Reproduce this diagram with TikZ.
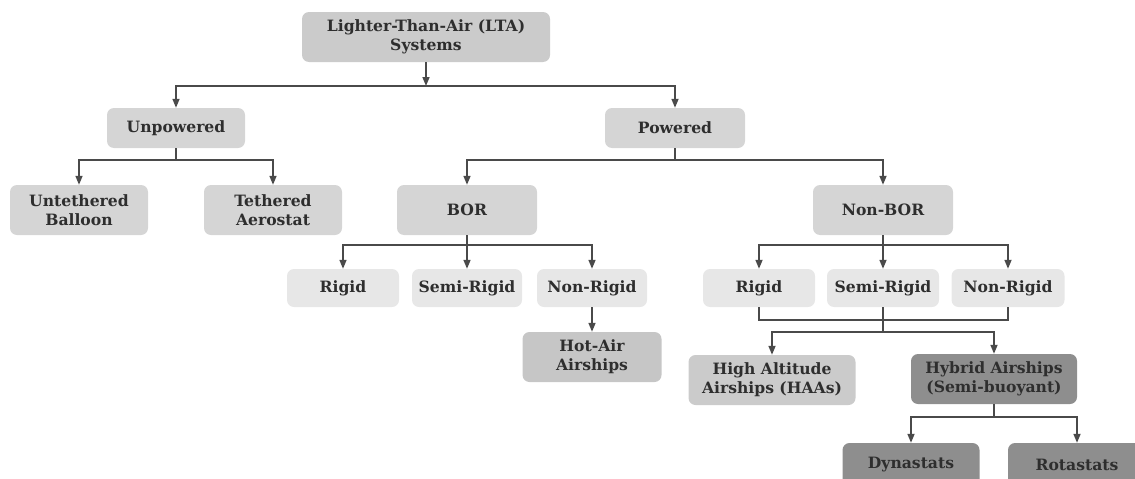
\documentclass[tikz,border=0pt]{standalone}
\usepackage{fontspec}
\setmainfont{DejaVu Serif}
\usetikzlibrary{arrows.meta}
\definecolor{cA}{HTML}{CBCBCB}
\definecolor{cB}{HTML}{D5D5D5}
\definecolor{cC}{HTML}{E7E7E7}
\definecolor{cD}{HTML}{C6C6C6}
\definecolor{cE}{HTML}{8E8E8E}
\definecolor{ln}{HTML}{4A4A4A}
\definecolor{tx}{HTML}{2E2E2E}
\tikzset{
  box/.style={rounded corners=7pt, inner sep=0pt, align=center, text=tx,
    font=\fontsize{15.6}{19}\selectfont\bfseries},
  conn/.style={draw=ln, line width=1.6pt},
  arr/.style={conn, -{Triangle[width=7pt,length=9pt]}},
}
\begin{document}
\begin{tikzpicture}[x=1pt,y=-1pt]
\useasboundingbox (0,0) rectangle (1135,479);
% nodes
\node[box, fill=cA, minimum width=248pt, minimum height=50pt] (lta) at (426,37) {Lighter-Than-Air (LTA)\\Systems};
\node[box, fill=cB, minimum width=138pt, minimum height=40pt] (unp) at (176,128) {Unpowered};
\node[box, fill=cB, minimum width=140pt, minimum height=40pt] (pow) at (675,128) {Powered};
\node[box, fill=cB, minimum width=138pt, minimum height=50pt] (unt) at (79,210) {Untethered\\Balloon};
\node[box, fill=cB, minimum width=138pt, minimum height=50pt] (teth) at (273,210) {Tethered\\Aerostat};
\node[box, fill=cB, minimum width=140pt, minimum height=50pt] (bor) at (467,210) {BOR};
\node[box, fill=cB, minimum width=140pt, minimum height=50pt] (nbor) at (883,210) {Non-BOR};
\node[box, fill=cC, minimum width=112pt, minimum height=38pt] (r1) at (343,288) {Rigid};
\node[box, fill=cC, minimum width=110pt, minimum height=38pt] (s1) at (467,288) {Semi-Rigid};
\node[box, fill=cC, minimum width=110pt, minimum height=38pt] (n1) at (592,288) {Non-Rigid};
\node[box, fill=cD, minimum width=139pt, minimum height=50pt] (hot) at (592,357) {Hot-Air\\Airships};
\node[box, fill=cC, minimum width=112pt, minimum height=38pt] (r2) at (759,288) {Rigid};
\node[box, fill=cC, minimum width=112pt, minimum height=38pt] (s2) at (883,288) {Semi-Rigid};
\node[box, fill=cC, minimum width=113pt, minimum height=38pt] (n2) at (1008,288) {Non-Rigid};
\node[box, fill=cA, minimum width=167pt, minimum height=50pt] (haa) at (772,380) {High Altitude\\Airships (HAAs)};
\node[box, fill=cE, minimum width=166pt, minimum height=50pt] (hyb) at (994,379) {Hybrid Airships\\(Semi-buoyant)};
\node[box, fill=cE, minimum width=137pt, minimum height=44pt] (dyn) at (911,465) {Dynastats};
\node[box, fill=cE, minimum width=138pt, minimum height=44pt] (rot) at (1077,465) {Rotastats};
% junctions
\coordinate (j0) at (426,86);
\coordinate (j1) at (176,160);
\coordinate (j2) at (675,160);
\coordinate (j3) at (467,245);
\coordinate (j4) at (883,245);
\coordinate (j5) at (883,332);
\coordinate (j6) at (994,417);
% connectors
\draw[arr] (lta.south) -- (j0);
\draw[arr] (j0) -| (unp.north);
\draw[arr] (j0) -| (pow.north);
\draw[conn] (unp.south) -- (j1);
\draw[arr] (j1) -| (unt.north);
\draw[arr] (j1) -| (teth.north);
\draw[conn] (pow.south) -- (j2);
\draw[arr] (j2) -| (bor.north);
\draw[arr] (j2) -| (nbor.north);
\draw[conn] (bor.south) -- (j3);
\draw[arr] (j3) -| (r1.north);
\draw[arr] (j3) -- (s1.north);
\draw[arr] (j3) -| (n1.north);
\draw[arr] (n1.south) -- (hot.north);
\draw[conn] (nbor.south) -- (j4);
\draw[arr] (j4) -| (r2.north);
\draw[arr] (j4) -- (s2.north);
\draw[arr] (j4) -| (n2.north);
\draw[conn] (r2.south) -- ++(0,13) -| (n2.south);
\draw[conn] (s2.south) -- (j5);
\draw[arr] (j5) -| (haa.north);
\draw[arr] (j5) -| (hyb.north);
\draw[conn] (hyb.south) -- (j6);
\draw[arr] (j6) -| (dyn.north);
\draw[arr] (j6) -| (rot.north);
\end{tikzpicture}
\end{document}
